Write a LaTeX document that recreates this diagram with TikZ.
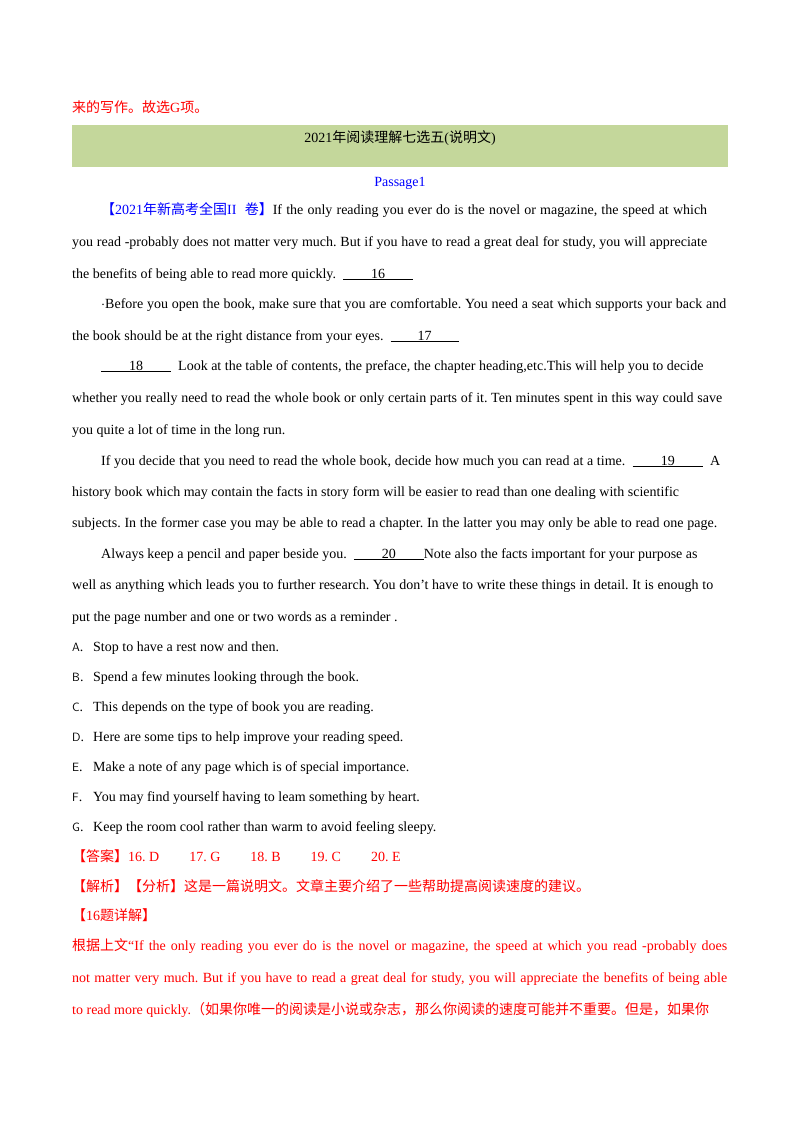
\documentclass[tikz,border=0pt]{standalone}
\usepackage{fontspec}
\setmainfont{Liberation Serif}
\newfontfamily\cjk{Noto Sans CJK SC}
\definecolor{bar}{HTML}{C4D79B}
\definecolor{rd}{HTML}{FF0000}
\definecolor{bl}{HTML}{0000FF}
\newcommand{\jl}[2]{\hbox to #1pt{#2}}
\newcommand{\blk}[2]{\underline{\makebox[#1pt][c]{#2}}}
\tikzset{ln/.style={anchor=base west,inner sep=0pt,font=\frenchspacing\fontsize{14}{16}\selectfont},
 opt/.style={ln}}
\begin{document}
\begin{tikzpicture}[x=1pt,y=-1pt]
\useasboundingbox[fill=white] (0,0) rectangle (800,1132);
\node[ln,text=rd] (t0) at (72,112) {{\cjk 来的写作。故选}G{\cjk 项。}};
\fill[bar] (72,125) rectangle (728,167);
\node[ln,anchor=base] (h) at (400,142) {2021{\cjk 年阅读理解七选五}({\cjk 说明文})};
\node[ln,anchor=base,text=bl] (p) at (400,186) {Passage1};
\node[ln] (l1) at (101,214) {\jl{606}{\textcolor{bl}{{\cjk 【}2021{\cjk 年新高考全国}II\ \ {\cjk 卷】}}If the only reading you ever do is the novel or magazine, the speed at which}};
\node[ln] (l2) at (72,246) {\jl{635}{you read -probably does not matter very much. But if you have to read a great deal for study, you will appreciate}};
\node[ln] (l3) at (72,278) {the benefits of being able to read more quickly.\ \ \blk{70}{16}};
\node[ln] (l4) at (101,308) {\jl{625}{$\cdot$Before you open the book, make sure that you are comfortable. You need a seat which supports your back and}};
\node[ln] (l5) at (72,340) {the book should be at the right distance from your eyes.\ \ \blk{68}{17}};
\node[ln] (l6) at (101,370) {\blk{70}{18}\ \ Look at the table of contents, the preface, the chapter heading,etc.This will help you to decide};
\node[ln] (l7) at (72,402) {\jl{650}{whether you really need to read the whole book or only certain parts of it. Ten minutes spent in this way could save}};
\node[ln] (l8) at (72,434) {you quite a lot of time in the long run.};
\node[ln] (l9) at (101,465) {\jl{619}{If you decide that you need to read the whole book, decide how much you can read at a time.\ \ \blk{70}{19}\ \ A}};
\node[ln] (l10) at (72,496) {history book which may contain the facts in story form will be easier to read than one dealing with scientific};
\node[ln] (l11) at (72,527) {\jl{645}{subjects. In the former case you may be able to read a chapter. In the latter you may only be able to read one page.}};
\node[ln] (l12) at (101,558) {Always keep a pencil and paper beside you.\ \ \blk{70}{20}Note also the facts important for your purpose as};
\node[ln] (l13) at (72,589) {\jl{641}{well as anything which leads you to further research. You don't have to write these things in detail. It is enough to}};
\node[ln] (l14) at (72,621) {put the page number and one or two words as a reminder .};
\foreach \l/\t [count=\i from 0] in {A/Stop to have a rest now and then.,B/Spend a few minutes looking through the book.,C/This depends on the type of book you are reading.,D/Here are some tips to help improve your reading speed.,E/Make a note of any page which is of special importance.,F/You may find yourself having to leam something by heart.,G/Keep the room cool rather than warm to avoid feeling sleepy.}{
 \node[opt] (o\l) at (72,651+30*\i) {\makebox[21pt][l]{{\sffamily\fontsize{12}{14}\selectfont\l}.}\t};
}
\node[ln,text=rd] (ans) at (72,861) {{\cjk 【答案】}16. D\hspace{30pt}17. G\hspace{30pt}18. B\hspace{30pt}19. C\hspace{30pt}20. E};
\node[ln,text=rd] (jx) at (72,891) {\cjk 【解析】【分析】这是一篇说明文。文章主要介绍了一些帮助提高阅读速度的建议。};
\node[ln,text=rd] (q16) at (72,920) {{\cjk 【}16{\cjk 题详解】}};
\node[ln,text=rd] (r1) at (72,950) {\jl{655}{{\cjk 根据上文}“If the only reading you ever do is the novel or magazine, the speed at which you read -probably does}};
\node[ln,text=rd] (r2) at (72,982) {\jl{655}{not matter very much. But if you have to read a great deal for study, you will appreciate the benefits of being able}};
\node[ln,text=rd] (r3) at (72,1014) {to read more quickly.{\cjk （如果你唯一的阅读是小说或杂志，那么你阅读的速度可能并不重要。但是，如果你}};
\end{tikzpicture}
\end{document}
